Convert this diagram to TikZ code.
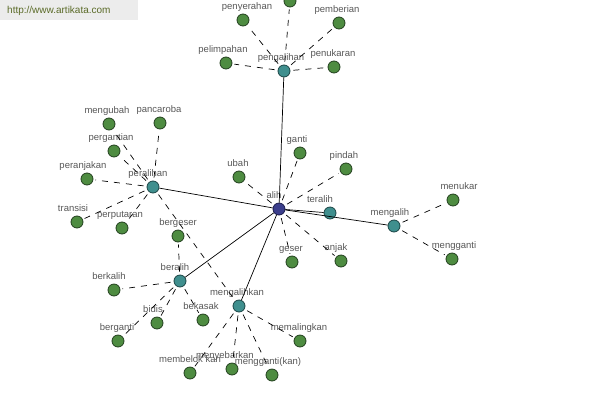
\documentclass[tikz,border=0pt]{standalone}
\usepackage{fontspec}
\setmainfont{Liberation Sans}
\definecolor{leafc}{HTML}{4E8C41}
\definecolor{leafdk}{HTML}{23401F}
\definecolor{hubc}{HTML}{3F8F8E}
\definecolor{hubdk}{HTML}{1C4646}
\definecolor{rootc}{HTML}{3B3E8C}
\definecolor{rootdk}{HTML}{1A1C4A}
\definecolor{lblc}{HTML}{585858}
\definecolor{wmbg}{HTML}{ECECEC}
\definecolor{wmtx}{HTML}{5B6B28}
\tikzset{
  dot/.style={circle, inner sep=0pt, minimum size=12pt, line width=0.8pt},
  leaf/.style={dot, draw=leafdk, fill=leafc},
  hub/.style={dot, draw=hubdk, fill=hubc},
  rootnode/.style={dot, draw=rootdk, fill=rootc},
  lbl/.style={font=\fontsize{9.5}{10}\selectfont, text=lblc, inner sep=0.5pt,
              text height=7pt, text depth=2pt},
  every label/.style={lbl},
  label distance=1pt,
  main/.style={draw=black, line width=0.7pt},
  dash edge/.style={draw=black, line width=0.7pt, dash pattern=on 6pt off 6pt,
                    shorten <=3pt, shorten >=2pt},
}
\begin{document}
\begin{tikzpicture}[x=1pt, y=-1pt]
\useasboundingbox (0,0) rectangle (600,400);
\fill[white] (0,0) rectangle (600,400);
% watermark
\node[fill=wmbg, minimum width=138pt, minimum height=20pt, anchor=north west,
      inner sep=0pt] (wm) at (0,0) {};
\node[font=\fontsize{10}{12}\selectfont, text=wmtx, anchor=west, inner sep=0pt]
      (wmtext) at (7,11) {http://www.artikata.com};

% hubs
\node[rootnode, label={[xshift=-5pt]above:alih}] (alih) at (279,209) {};
\node[hub, label={[xshift=-3pt]above:pengalihan}] (pengalihan) at (284,71) {};
\node[hub, label={[xshift=-5pt]above:peralihan}] (peralihan) at (153,187) {};
\node[hub, label={[xshift=-10pt]above:teralih}] (teralih) at (330,213) {};
\node[hub, label={[xshift=-4pt]above:mengalih}] (mengalih) at (394,226) {};
\node[hub, label={[xshift=-5pt]above:beralih}] (beralih) at (180,281) {};
\node[hub, label={[xshift=-2pt]above:mengalihkan}] (mengalihkan) at (239,306) {};

% leaves of pengalihan
\node[leaf] (top) at (290,1) {};
\node[leaf, label={[xshift=4pt]above:penyerahan}] (penyerahan) at (243,20) {};
\node[leaf, label={[xshift=-2pt]above:pemberian}] (pemberian) at (339,23) {};
\node[leaf, label={[xshift=-3pt]above:pelimpahan}] (pelimpahan) at (226,63) {};
\node[leaf, label={[xshift=-1pt]above:penukaran}] (penukaran) at (334,67) {};

% leaves of peralihan
\node[leaf, label={[xshift=-2pt]above:mengubah}] (mengubah) at (109,124) {};
\node[leaf, label={[xshift=-1pt]above:pancaroba}] (pancaroba) at (160,123) {};
\node[leaf, label={[xshift=-3pt]above:pergantian}] (pergantian) at (114,151) {};
\node[leaf, label={[xshift=-4pt]above:peranjakan}] (peranjakan) at (87,179) {};
\node[leaf, label={[xshift=-4pt]above:transisi}] (transisi) at (77,222) {};
\node[leaf, label={[xshift=-2pt]above:perputaran}] (perputaran) at (122,228) {};

% leaves of alih
\node[leaf, label={[xshift=-1pt]above:ubah}] (ubah) at (239,177) {};
\node[leaf, label={[xshift=-3pt]above:ganti}] (ganti) at (300,153) {};
\node[leaf, label={[xshift=-2pt]above:pindah}] (pindah) at (346,169) {};
\node[leaf, label={[xshift=-1pt]above:geser}] (geser) at (292,262) {};
\node[leaf, label={[xshift=-5pt]above:anjak}] (anjak) at (341,261) {};

% leaves of mengalih
\node[leaf, label={[xshift=6pt]above:menukar}] (menukar) at (453,200) {};
\node[leaf, label={[xshift=2pt]above:mengganti}] (mengganti) at (452,259) {};

% leaves of beralih
\node[leaf, label={above:bergeser}] (bergeser) at (178,236) {};
\node[leaf, label={[xshift=-5pt]above:berkalih}] (berkalih) at (114,290) {};
\node[leaf, label={[xshift=-4pt]above:bidis}] (bidis) at (157,323) {};
\node[leaf, label={[xshift=-2pt]above:bekasak}] (bekasak) at (203,320) {};
\node[leaf, label={[xshift=-1pt]above:berganti}] (berganti) at (118,341) {};

% leaves of mengalihkan
\node[leaf, label={[xshift=-1pt]above:memalingkan}] (memalingkan) at (300,341) {};
\node[leaf, label={above:membelok kan}] (membelokkan) at (190,373) {};
\node[leaf, label={[xshift=-7pt]above:menyebarkan}] (menyebarkan) at (232,369) {};
\node[leaf, label={[xshift=-4pt]above:mengganti(kan)}] (menggantikan) at (272,375) {};

% solid edges
\path[main] (alih) -- (pengalihan);
\path[main] (alih) -- (peralihan);
\path[main] (alih) -- (teralih);
\path[main] (alih) -- (mengalih);
\path[main] (alih) -- (beralih);
\path[main] (alih) -- (mengalihkan);

% dashed edges
\foreach \n in {top,penyerahan,pemberian,pelimpahan,penukaran}
  \path[dash edge] (pengalihan) -- (\n);
\foreach \n in {mengubah,pancaroba,pergantian,peranjakan,transisi,perputaran,mengalihkan}
  \path[dash edge] (peralihan) -- (\n);
\foreach \n in {ubah,ganti,pindah,geser,anjak}
  \path[dash edge] (alih) -- (\n);
\foreach \n in {menukar,mengganti}
  \path[dash edge] (mengalih) -- (\n);
\foreach \n in {bergeser,berkalih,bidis,bekasak,berganti}
  \path[dash edge] (beralih) -- (\n);
\foreach \n in {memalingkan,membelokkan,menyebarkan,menggantikan}
  \path[dash edge] (mengalihkan) -- (\n);
\end{tikzpicture}
\end{document}
